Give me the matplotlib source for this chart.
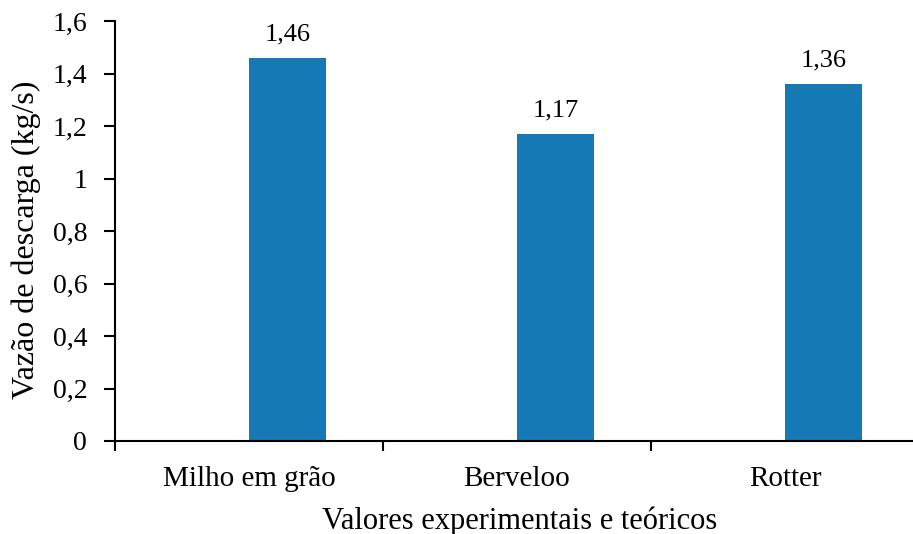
import matplotlib
matplotlib.use('Agg')
import matplotlib.pyplot as plt
import numpy as np

categories = ['Milho em grão', 'Berveloo', 'Rotter']
values = [1.46, 1.17, 1.36]
value_labels = ['1,46', '1,17', '1,36']
y_ticks = [0, 0.2, 0.4, 0.6, 0.8, 1.0, 1.2, 1.4, 1.6]
y_tick_labels = ['0', '0,2', '0,4', '0,6', '0,8', '1', '1,2', '1,4', '1,6']

plt.rcParams['font.family'] = ['Liberation Serif', 'DejaVu Serif']

fig = plt.figure(figsize=(9.13, 5.34), dpi=100)
# axes runs a bit past the right edge, as in the original
ax = fig.add_axes([115 / 913, 93 / 534, 804 / 913, 420 / 534])

x = np.arange(len(categories))
bar_w = 0.287
bars = ax.bar(x, values, width=bar_w, align='edge', color='#1479b4')

for b, lab in zip(bars, value_labels):
    ax.annotate(lab, (b.get_x() + b.get_width() / 2, b.get_height()),
                xytext=(0, 9), textcoords='offset points',
                ha='center', va='bottom', fontsize=19)

ax.set_xlim(-0.5, 2.5)
ax.set_ylim(0, 1.6)
ax.set_yticks(y_ticks)
ax.set_yticklabels(y_tick_labels, fontsize=20)

# major ticks on the category boundaries, labels on the centres
ax.set_xticks([-0.5, 0.5, 1.5, 2.5])
ax.set_xticklabels([])
ax.set_xticks(x, minor=True)
ax.set_xticklabels(categories, minor=True, fontsize=21)
ax.tick_params(axis='x', which='minor', length=0, pad=18)
ax.tick_params(axis='x', which='major', direction='out', length=7, width=1.5)
ax.tick_params(axis='y', direction='out', length=8, width=1.5, pad=12)

for s in ['top', 'right']:
    ax.spines[s].set_visible(False)
for s in ['left', 'bottom']:
    ax.spines[s].set_linewidth(1.5)
ax.spines['bottom'].set_bounds(-0.5, 2.5)

ax.set_xlabel('Valores experimentais e teóricos', fontsize=22)
ax.xaxis.label.set_va('center')
ax.xaxis.set_label_coords(0.503, -0.19)
ax.set_ylabel('Vazão de descarga (kg/s)', fontsize=23)
ax.yaxis.label.set_va('center')
ax.yaxis.set_label_coords(-0.111, 0.479)

fig.savefig('out.png', dpi=100)
